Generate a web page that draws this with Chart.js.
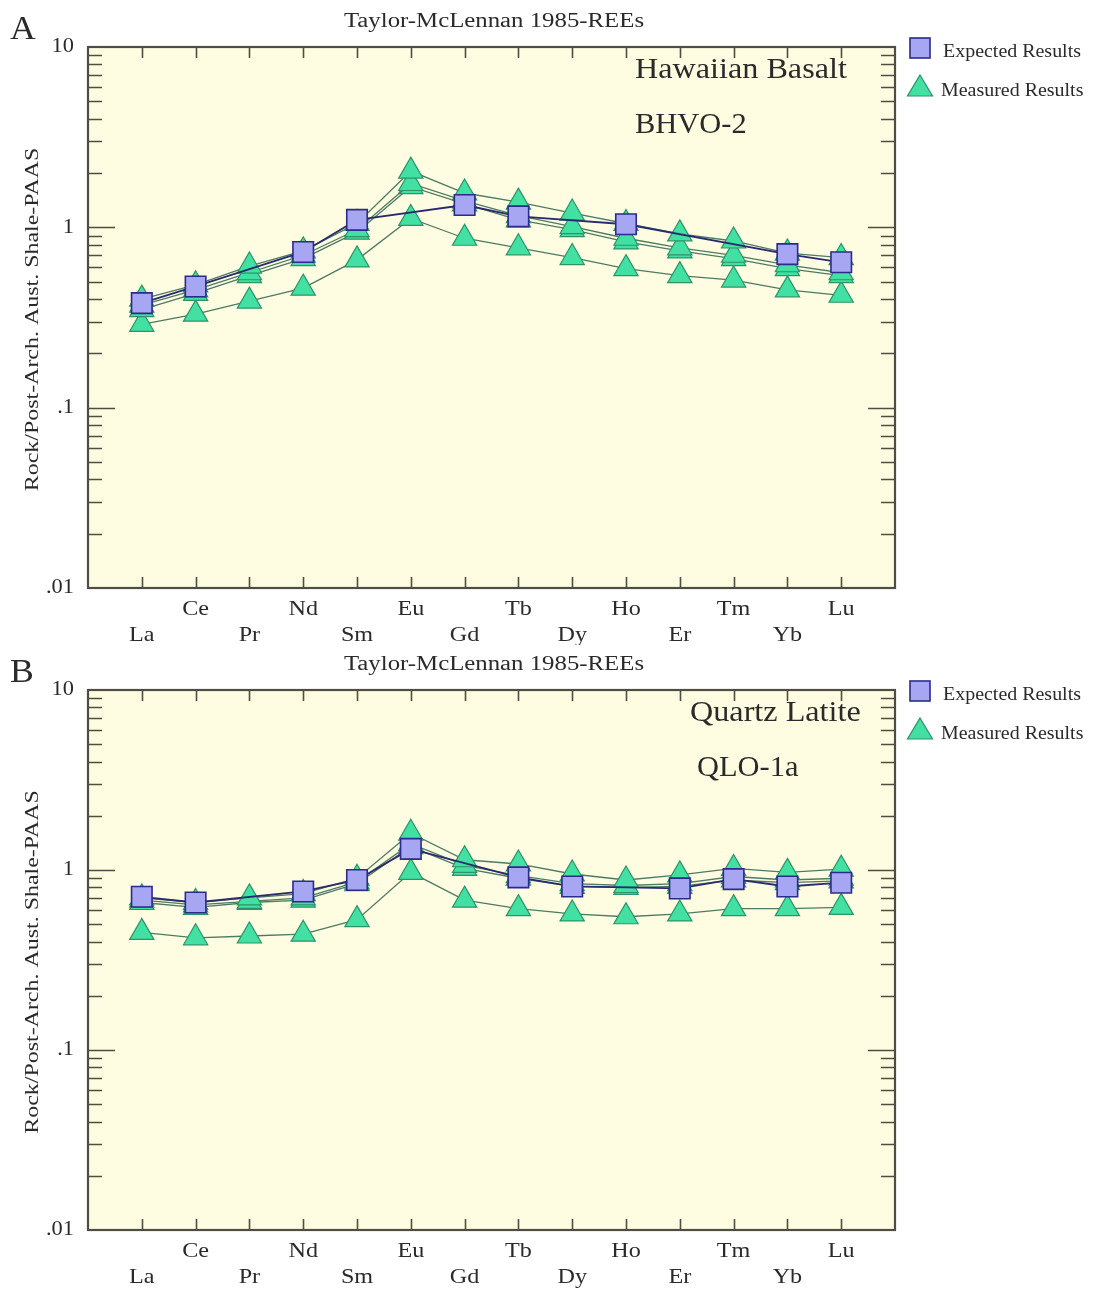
<!DOCTYPE html>
<html><head><meta charset="utf-8">
<script src="https://cdn.jsdelivr.net/npm/chart.js@4.4.0/dist/chart.umd.min.js"></script>
<style>
html,body{margin:0;padding:0;background:#fff;}
#wrap{position:relative;width:1096px;height:1291px;overflow:hidden;}
.pane{position:absolute;left:0;width:1096px;}
canvas{display:block;}
</style></head><body>
<div id="wrap">
<div class="pane" style="top:0;height:645px"><canvas id="cA" width="1096" height="645"></canvas></div>
<div class="pane" style="top:645px;height:646px"><canvas id="cB" width="1096" height="646"></canvas></div>
</div>
<script>
// ---------------- data ----------------
const elements = ['La','Ce','Pr','Nd','Sm','Eu','Gd','Tb','Dy','Ho','Er','Tm','Yb','Lu'];
const yTickValues = [10, 1, 0.1, 0.01];
const yTickLabels = ['10', '1', '.1', '.01'];
const chartTitle = 'Taylor-McLennan 1985-REEs';
const yAxisTitle = 'Rock/Post-Arch. Aust. Shale-PAAS';
const legendLabels = ['Expected Results', 'Measured Results'];

// Panel A: Hawaiian Basalt BHVO-2
const expectedA  = [0.38, 0.47, null, 0.73, 1.10, null, 1.33, 1.15, null, 1.04, null, null, 0.71, 0.64];
const measuredA1 = [0.40, 0.48, 0.61, 0.74, 1.05, 2.05, 1.55, 1.38, 1.20, 1.05, 0.92, 0.84, 0.72, 0.68];
const measuredA2 = [0.37, 0.45, 0.56, 0.70, 0.97, 1.75, 1.40, 1.16, 1.01, 0.87, 0.77, 0.70, 0.62, 0.56];
const measuredA3 = [0.35, 0.43, 0.54, 0.67, 0.94, 1.68, 1.35, 1.10, 0.97, 0.83, 0.74, 0.67, 0.59, 0.54];
const measuredA4 = [0.29, 0.33, 0.39, 0.46, 0.66, 1.12, 0.87, 0.77, 0.68, 0.59, 0.54, 0.51, 0.45, 0.42];

// Panel B: Quartz Latite QLO-1a
const expectedB  = [0.71, 0.66, null, 0.76, 0.88, 1.31, null, 0.91, 0.81, null, 0.79, 0.89, 0.81, 0.85];
const measuredB1 = [0.70, 0.66, 0.70, 0.74, 0.90, 1.60, 1.14, 1.08, 0.95, 0.88, 0.94, 1.02, 0.97, 1.01];
const measuredB2 = [0.68, 0.64, 0.67, 0.70, 0.86, 1.40, 1.06, 0.93, 0.84, 0.82, 0.84, 0.92, 0.88, 0.90];
const measuredB3 = [0.66, 0.62, 0.66, 0.68, 0.84, 1.35, 1.02, 0.90, 0.81, 0.80, 0.81, 0.88, 0.85, 0.87];
const measuredB4 = [0.45, 0.42, 0.43, 0.44, 0.53, 0.97, 0.68, 0.61, 0.57, 0.55, 0.57, 0.61, 0.61, 0.62];

const panelA = {letter: 'A', sample: ['Hawaiian Basalt', 'BHVO-2']};
const panelB = {letter: 'B', sample: ['Quartz Latite', 'QLO-1a']};

// ---------------- styling ----------------
const SERIF = '"Liberation Serif", "Times New Roman", Times, serif';
const TEXT = '#2a2a2a';
const FRAME = '#4e4e42';
const PLOT_BG = '#fffde1';
const SQ_FILL = '#a6a6f3', SQ_EDGE = '#2b2b8c', SQ_LINE = '#2a2a6e';
const TRI_FILL = '#42e0a2', TRI_EDGE = '#2c9468', TRI_LINE = '#4d7a63';

function toXY(arr) { return arr.map((v, i) => ({x: i, y: v})); }

function txt(ctx, s, x, y, size, o) {
  o = o || {};
  ctx.save();
  ctx.translate(x, y);
  if (o.rot) ctx.rotate(o.rot);
  ctx.scale(o.sx || 1, 1);
  ctx.font = size + 'px ' + SERIF;
  ctx.fillStyle = o.color || TEXT;
  ctx.textAlign = o.align || 'left';
  ctx.textBaseline = o.baseline || 'alphabetic';
  ctx.fillText(s, 0, 0);
  ctx.restore();
}

function expectedDs(arr) {
  return {
    label: legendLabels[0], data: toXY(arr), spanGaps: true,
    borderColor: SQ_LINE, borderWidth: 1.8,
    pointStyle: 'rect', pointRadius: 14.5, pointHoverRadius: 14.5,
    pointBackgroundColor: SQ_FILL, pointBorderColor: SQ_EDGE, pointBorderWidth: 1.6,
    tension: 0, fill: false
  };
}
function measuredDs(arr) {
  return {
    label: legendLabels[1], data: toXY(arr), spanGaps: true,
    borderColor: TRI_LINE, borderWidth: 1.3,
    pointStyle: 'triangle', pointRadius: 14, pointHoverRadius: 14,
    pointBackgroundColor: TRI_FILL, pointBorderColor: TRI_EDGE, pointBorderWidth: 1.2,
    tension: 0, fill: false
  };
}

const framePlugin = {
  id: 'frame',
  beforeDatasetsDraw(chart) {
    const {ctx, chartArea: a, scales} = chart;
    const xs = scales.x, ys = scales.y;
    ctx.save();
    ctx.fillStyle = PLOT_BG;
    ctx.fillRect(a.left, a.top, a.right - a.left, a.bottom - a.top);
    ctx.strokeStyle = FRAME;
    ctx.lineWidth = 1.6;
    ctx.beginPath();
    [0.01, 0.1, 1].forEach(d => {
      for (let k = 1; k <= 9; k++) {
        const v = k * d;
        if (v <= 0.01 + 1e-12) continue;
        const y = Math.round(ys.getPixelForValue(v)) + 0.5;
        const len = (k === 1) ? 27 : 14;
        ctx.moveTo(a.left, y); ctx.lineTo(a.left + len, y);
        ctx.moveTo(a.right, y); ctx.lineTo(a.right - len, y);
      }
    });
    elements.forEach((e, i) => {
      const x = Math.round(xs.getPixelForValue(i)) + 0.5;
      ctx.moveTo(x, a.bottom); ctx.lineTo(x, a.bottom - 11);
      ctx.moveTo(x, a.top); ctx.lineTo(x, a.top + 11);
    });
    ctx.stroke();
    ctx.lineWidth = 2.2;
    ctx.strokeRect(a.left, a.top, a.right - a.left, a.bottom - a.top);
    ctx.restore();
  }
};

function makeTextPlugin(panel) {
  return {
    id: 'texts',
    afterDraw(chart) {
      const {ctx, chartArea: a, scales} = chart;
      const xs = scales.x, ys = scales.y;
      txt(ctx, panel.letter, 10, a.top - 8, 34, {sx: 1.05});
      txt(ctx, chartTitle, 494, a.top - 20, 20, {sx: 1.24, align: 'center'});
      yTickValues.forEach((v, i) => {
        txt(ctx, yTickLabels[i], 74, ys.getPixelForValue(v), 20, {sx: 1.12, align: 'right', baseline: 'middle'});
      });
      txt(ctx, yAxisTitle, 33, (a.top + a.bottom) / 2 + 2, 19, {sx: 1.26, align: 'center', baseline: 'middle', rot: -Math.PI / 2});
      elements.forEach((e, i) => {
        const x = xs.getPixelForValue(i);
        const y = (i % 2 === 1) ? a.bottom + 27 : a.bottom + 53;
        txt(ctx, e, x, y, 21, {sx: 1.15, align: 'center'});
      });
      const sx0 = panel.letter === 'A' ? 635 : 690;
      const sx1 = panel.letter === 'A' ? 635 : 697;
      txt(ctx, panel.sample[0], sx0, a.top + 31, 29, {sx: 1.11});
      txt(ctx, panel.sample[1], sx1, a.top + 86, 29, {sx: 1.05});
      const lx = 920;
      const ly1 = a.top + 1, ly2 = a.top + 41;
      ctx.save();
      ctx.fillStyle = SQ_FILL; ctx.strokeStyle = SQ_EDGE; ctx.lineWidth = 1.6;
      ctx.fillRect(lx - 10, ly1 - 10, 20, 20);
      ctx.strokeRect(lx - 10, ly1 - 10, 20, 20);
      ctx.fillStyle = TRI_FILL; ctx.strokeStyle = TRI_EDGE; ctx.lineWidth = 1.2;
      ctx.beginPath();
      ctx.moveTo(lx, ly2 - 13);
      ctx.lineTo(lx + 12.5, ly2 + 8);
      ctx.lineTo(lx - 12.5, ly2 + 8);
      ctx.closePath();
      ctx.fill(); ctx.stroke();
      ctx.restore();
      txt(ctx, legendLabels[0], 943, ly1 + 9, 19, {sx: 1.05});
      txt(ctx, legendLabels[1], 941, ly2 + 8, 19, {sx: 1.05});
    }
  };
}

function makeChart(id, panel, exp, meas, pad) {
  const datasets = [expectedDs(exp)].concat(meas.map(measuredDs));
  return new Chart(document.getElementById(id), {
    type: 'line',
    data: {datasets},
    options: {
      responsive: false,
      animation: false,
      devicePixelRatio: 1,
      layout: {padding: pad},
      scales: {
        x: {type: 'linear', min: -1, max: 14, display: false},
        y: {type: 'logarithmic', min: 0.01, max: 10, display: false}
      },
      plugins: {legend: {display: false}, tooltip: {enabled: false}, title: {display: false}},
      events: []
    },
    plugins: [framePlugin, makeTextPlugin(panel)]
  });
}

makeChart('cA', panelA, expectedA, [measuredA1, measuredA2, measuredA3, measuredA4],
  {left: 88, top: 47, right: 201, bottom: 57});
makeChart('cB', panelB, expectedB, [measuredB1, measuredB2, measuredB3, measuredB4],
  {left: 88, top: 45, right: 201, bottom: 61});
</script>
</body></html>
